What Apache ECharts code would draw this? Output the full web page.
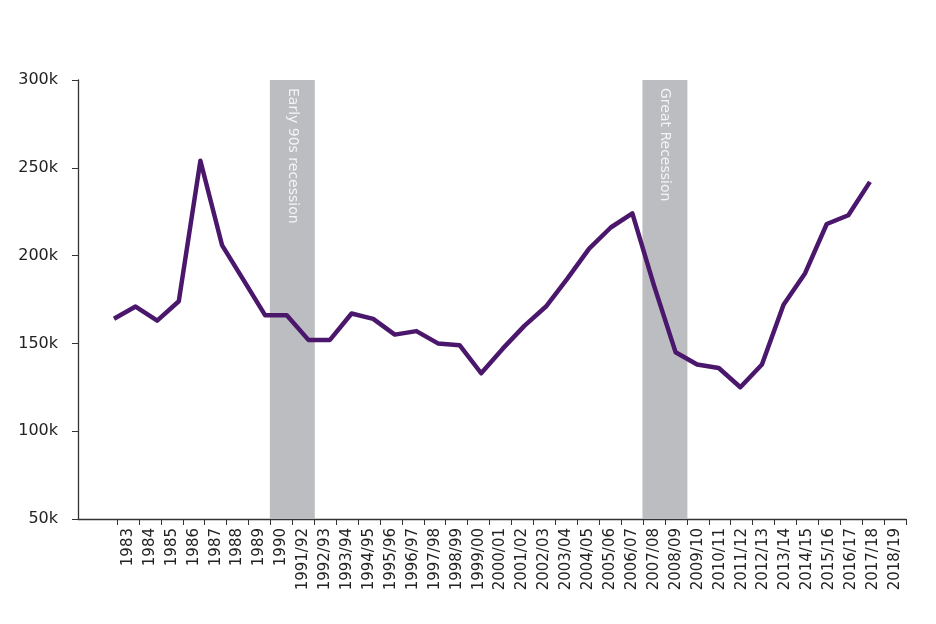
<!DOCTYPE html>
<html>
<head>
<meta charset="utf-8">
<script src="https://cdn.jsdelivr.net/npm/echarts@6/dist/echarts.min.js"></script>
<style>
    html, body { margin: 0; padding: 0; background: #fff; }
    #chart { width: 936px; height: 624px; }
</style>
</head>
<body>
<div id="chart"></div>
<script>
    var categories = ['1983', '1984', '1985', '1986', '1987', '1988', '1989', '1990',
        '1991/92', '1992/93', '1993/94', '1994/95', '1995/96', '1996/97', '1997/98',
        '1998/99', '1999/00', '2000/01', '2001/02', '2002/03', '2003/04', '2004/05',
        '2005/06', '2006/07', '2007/08', '2008/09', '2009/10', '2010/11', '2011/12',
        '2012/13', '2013/14', '2014/15', '2015/16', '2016/17', '2017/18', '2018/19'];

    var values = [164000, 171000, 163000, 174000, 254000, 206000, 186000, 166000,
        166000, 152000, 152000, 167000, 164000, 155000, 157000, 150000, 149000,
        133000, 147000, 160000, 171000, 187000, 204000, 216000, 224000, 183000,
        145000, 138000, 136000, 125000, 138000, 172000, 190000, 218000, 223000, 242000];

    var recessions = [
        { name: 'Early 90s recession', from: '1990', to: '1991/92' },
        { name: 'Great Recession', from: '2007/08', to: '2008/09' }
    ];

    var yTicks = [50000, 100000, 150000, 200000, 250000, 300000];

    var chartDom = document.getElementById('chart');
    var myChart = echarts.init(chartDom);
    var option;

    // grey shading: one full-height bar per recession year
    var shadeData = categories.map(function (c, i) {
        var r = null;
        recessions.forEach(function (rec) {
            var a = categories.indexOf(rec.from), b = categories.indexOf(rec.to);
            if (i >= a && i <= b) r = rec;
        });
        if (!r) return '-';
        return {
            value: yTicks[yTicks.length - 1],
            label: {
                show: c === r.from,
                formatter: r.name
            }
        };
    });

    var lineData = values.map(function (v, i) { return [i, v]; });

    var textFont = 'DejaVu Sans';

    option = {
        animation: false,
        grid: [
            { left: 78, right: 30, top: 80, bottom: 105 },
            { left: 117, right: 30, top: 80, bottom: 105 }
        ],
        xAxis: [
            {
                type: 'value',
                gridIndex: 0,
                min: -1.667,
                max: 36.67,
                axisLine: { show: true, onZero: false, lineStyle: { color: '#333', width: 1.3 } },
                axisTick: { show: false },
                axisLabel: { show: false },
                splitLine: { show: false }
            },
            {
                type: 'category',
                gridIndex: 1,
                data: categories,
                boundaryGap: true,
                axisLine: { show: false },
                axisTick: { show: true, interval: 0, length: 6, lineStyle: { color: '#333' } },
                axisLabel: {
                    interval: 0,
                    rotate: 90,
                    margin: 9,
                    color: '#222',
                    fontFamily: textFont,
                    fontSize: 15
                },
                splitLine: { show: false }
            }
        ],
        yAxis: [
            {
                type: 'value',
                gridIndex: 0,
                min: 50000,
                max: 300000,
                interval: 50000,
                axisLine: { show: true, onZero: false, lineStyle: { color: '#333', width: 1.3 } },
                axisTick: { show: true, length: 6, lineStyle: { color: '#333' } },
                axisLabel: {
                    margin: 20,
                    color: '#222',
                    fontFamily: textFont,
                    fontSize: 16,
                    formatter: function (v) { return (v / 1000) + 'k'; }
                },
                splitLine: { show: false }
            },
            {
                type: 'value',
                gridIndex: 1,
                min: 50000,
                max: 300000,
                show: false
            }
        ],
        series: [
            {
                type: 'bar',
                xAxisIndex: 1,
                yAxisIndex: 1,
                data: shadeData,
                barWidth: 23,
                itemStyle: { color: '#bcbdc0' },
                label: {
                    position: 'insideTop',
                    distance: 8,
                    rotate: -90,
                    align: 'left',
                    verticalAlign: 'middle',
                    offset: [0, -11],
                    color: '#f4f4f4',
                    fontFamily: textFont,
                    fontSize: 14
                },
                z: 1
            },
            {
                type: 'line',
                xAxisIndex: 0,
                yAxisIndex: 0,
                data: lineData,
                symbol: 'none',
                lineStyle: { color: '#4a176d', width: 4.5, join: 'round' },
                z: 5
            }
        ]
    };

    option && myChart.setOption(option);
</script>
</body>
</html>
